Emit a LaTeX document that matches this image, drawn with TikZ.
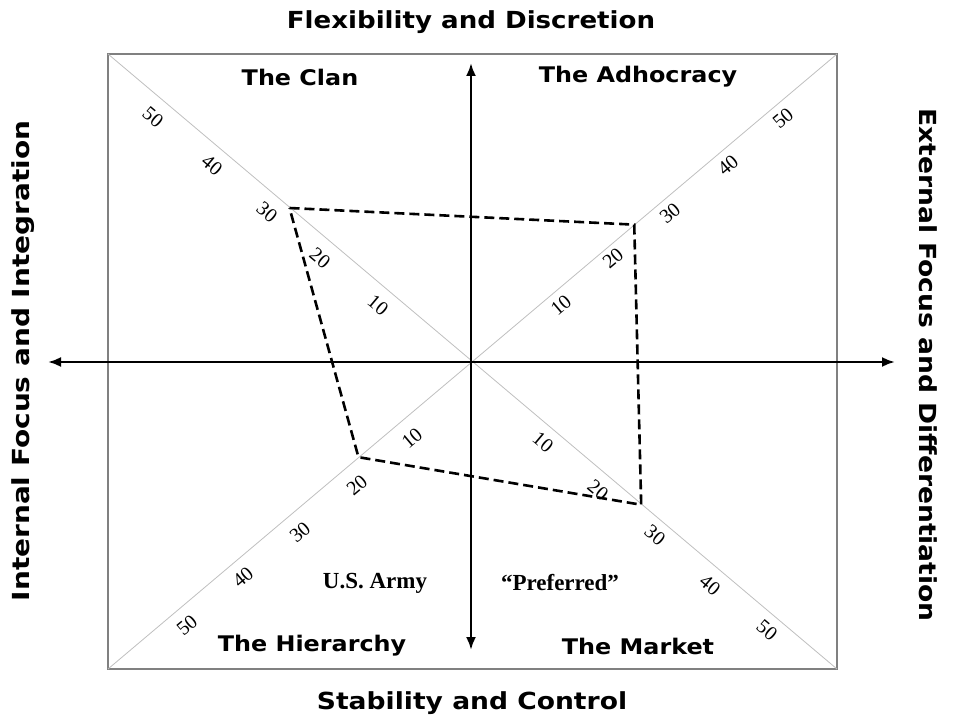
\documentclass[tikz,border=0pt]{standalone}
\usepackage{fontspec}
\setmainfont{Liberation Serif}
\newfontfamily\headfont{DejaVu Sans}
\usetikzlibrary{calc,arrows.meta}

% the heading font of the chart is wider than DejaVu
\newcommand{\widen}[2][1.11]{\scalebox{#1}[1]{#2}}

\begin{document}
\begin{tikzpicture}[x=1pt,y=-1pt,
	axislabel/.style={font=\headfont\bfseries\fontsize{23.5}{27}\selectfont},
	quadlabel/.style={font=\headfont\bfseries\fontsize{21.5}{25}\selectfont},
	ticklabel/.style={font=\fontsize{20}{22}\selectfont,inner sep=0pt},
	culture/.style={font=\bfseries\fontsize{23}{26}\selectfont,inner sep=1pt},
	axisline/.style={line width=2.4pt,{Latex[length=13pt,width=10pt]}-{Latex[length=13pt,width=10pt]}},
	profile/.style={line width=2.6pt,dash pattern=on 10pt off 5pt}]
	
	\useasboundingbox (0,0) rectangle (953,717);
	
	\coordinate (o) at (471,362);
	\coordinate (ul) at (108,54);
	\coordinate (ur) at (837,54);
	\coordinate (lr) at (837,669);
	\coordinate (ll) at (108,669);
	\draw[line width=1.6pt,gray] (ul) rectangle (lr);
	
	% diagonals
	\draw[line width=0.8pt,black!25] (ul) -- (lr);
	\draw[line width=0.8pt,black!25] (ll) -- (ur);
	
	% scale values
	\foreach \v/\x/\y in {10/378/305,20/320/258,30/267/212,40/212/165,50/153/117}
		\node[ticklabel,rotate=-40] (tul\v) at (\x,\y) {\v};
	\foreach \v/\x/\y in {10/561/305,20/613/258,30/670/213,40/728/165,50/783/118}
		\node[ticklabel,rotate=40] (tur\v) at (\x,\y) {\v};
	\foreach \v/\x/\y in {10/412/438,20/357/485,30/300/532,40/243/577,50/187/625}
		\node[ticklabel,rotate=40] (tll\v) at (\x,\y) {\v};
	\foreach \v/\x/\y in {10/543/442,20/598/490,30/655/535,40/710/585,50/767/630}
		\node[ticklabel,rotate=-40] (tlr\v) at (\x,\y) {\v};
	
	% axes
	\coordinate (top) at (471,63);
	\coordinate (bottom) at (471,650);
	\coordinate (left) at (48,362);
	\coordinate (right) at (895,362);
	\draw[axisline] (bottom) -- (top);
	\draw[axisline] (left) -- (right);
	
	% profile
	\coordinate (pclan) at ($(o)!0.5!(ul)$);
	\coordinate (padhoc) at ($(o)!0.446!(ur)$);
	\coordinate (pmarket) at ($(o)!0.465!(lr)$);
	\coordinate (phier) at ($(o)!0.31!(ll)$);
	\draw[profile] (pclan) -- (padhoc) -- (pmarket) -- (phier) -- cycle;
	
	\node[axislabel] (flex) at (471,22) {\widen{Flexibility and Discretion}};
	\node[axislabel] (stab) at (472,703) {\widen[1.13]{Stability and Control}};
	\node[axislabel,rotate=90] (internal) at (23,361) {\widen[1.19]{Internal Focus and Integration}};
	\node[axislabel,rotate=-90] (external) at (928,365) {\widen[1.13]{External Focus and Differentiation}};
	
	\node[quadlabel] (clan) at (300,77) {\widen{The Clan}};
	\node[quadlabel] (adhoc) at (638,77) {\widen{The Adhocracy}};
	\node[quadlabel] (hier) at (312,646) {\widen{The Hierarchy}};
	\node[quadlabel] (market) at (638,646) {\widen{The Market}};
	
	\node[culture] (army) at (375,583) {U.S. Army};
	\node[culture] (pref) at (560,583) {“Preferred”};
	
\end{tikzpicture}
\end{document}
